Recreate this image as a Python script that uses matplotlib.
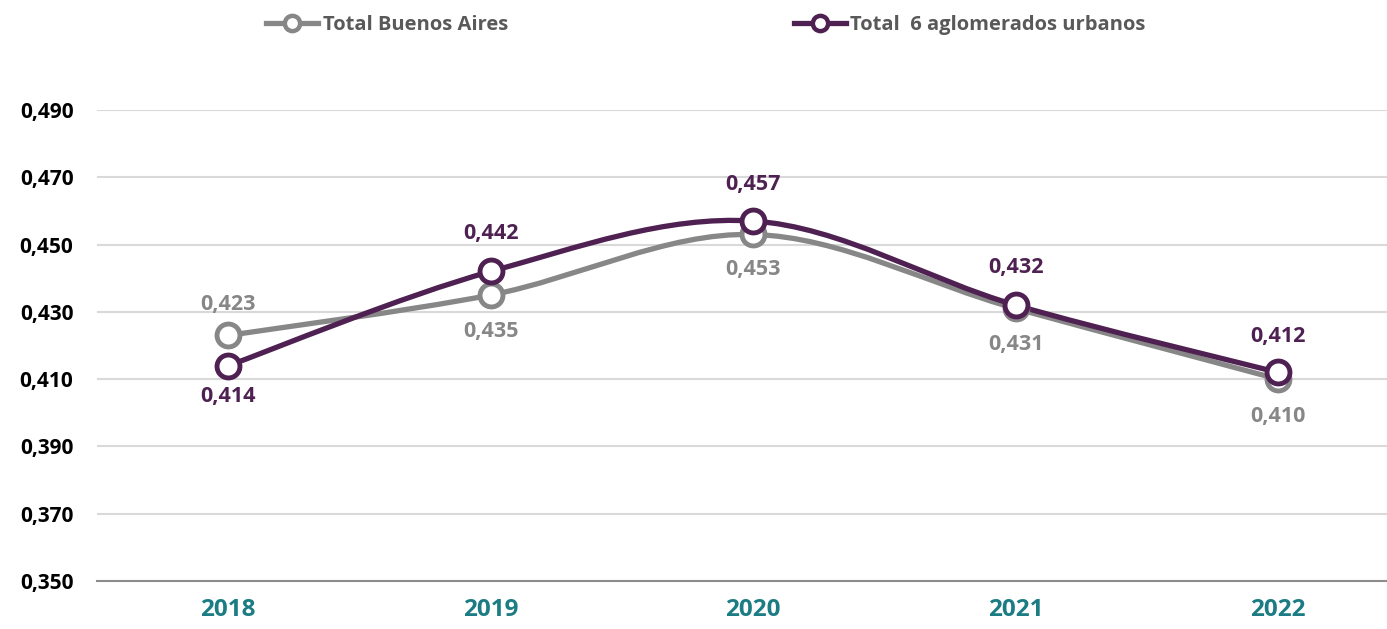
import matplotlib
matplotlib.use("Agg")
import matplotlib.pyplot as plt
from matplotlib.path import Path
from matplotlib.patches import PathPatch
from matplotlib.lines import Line2D
import numpy as np

years = ["2018", "2019", "2020", "2021", "2022"]
buenos_aires = [0.423, 0.435, 0.453, 0.431, 0.410]
aglomerados = [0.414, 0.442, 0.457, 0.432, 0.412]
series_names = ["Total Buenos Aires", "Total  6 aglomerados urbanos"]
yticks = [0.350, 0.370, 0.390, 0.410, 0.430, 0.450, 0.470, 0.490]

GRAY = "#878787"
PURPLE = "#4F2152"
TEAL = "#1C7C83"
FONT = "Open Sans"

W, H = 1387, 629
fig = plt.figure(figsize=(W / 100, H / 100), dpi=100)
ax = fig.add_axes([97 / W, 1 - 581 / H, (W - 97) / W, (581 - 110) / H])
ax.set_xlim(-0.5, (W - 228) / 262.5)
ax.set_ylim(0.350, 0.490)


def smooth_path(xs, ys):
    pts = np.column_stack([xs, ys])
    n = len(pts)
    verts = [pts[0]]
    codes = [Path.MOVETO]
    for i in range(n - 1):
        p0 = pts[max(i - 1, 0)]
        p1 = pts[i]
        p2 = pts[i + 1]
        p3 = pts[min(i + 2, n - 1)]
        c1 = p1 + (p2 - p0) / 6.0
        c2 = p2 - (p3 - p1) / 6.0
        verts += [c1, c2, p2]
        codes += [Path.CURVE4] * 3
    return Path(verts, codes)


xs = np.arange(len(years))
for vals, color in [(buenos_aires, GRAY), (aglomerados, PURPLE)]:
    patch = PathPatch(smooth_path(xs, vals), facecolor="none", edgecolor=color,
                      lw=3.8, zorder=3, capstyle="round")
    ax.add_patch(patch)
    ax.plot(xs, vals, linestyle="none", marker="o", markersize=16.5,
            markerfacecolor="white", markeredgecolor=color, markeredgewidth=3.5,
            zorder=4)

# data labels (offsets in points; positive = above)
ba_offsets = [22, -26, -25, -26, -27]
ag_offsets = [-22, 27, 26, 27, 26]
for vals, offs, color in [(buenos_aires, ba_offsets, GRAY), (aglomerados, ag_offsets, PURPLE)]:
    for x, v, o in zip(xs, vals, offs):
        ax.annotate(f"{v:.3f}".replace(".", ","), (x, v), xytext=(0, o),
                    textcoords="offset points", ha="center", va="center",
                    fontsize=15.5, fontweight="bold", color=color,
                    family=FONT, zorder=5)

ax.set_yticks(yticks)
ax.set_yticklabels([f"{t:.3f}".replace(".", ",") for t in yticks],
                   fontsize=15, fontweight="bold", family=FONT, color="black")
ax.set_xticks(xs)
ax.set_xticklabels(years, fontsize=17.5, fontweight="bold", family=FONT, color=TEAL)
ax.tick_params(axis="y", length=0, pad=17)
ax.tick_params(axis="x", length=0, pad=12)
ax.grid(axis="y", color="#D9D9D9", lw=1.5, zorder=0)
ax.set_axisbelow(True)
for s in ["top", "right", "left"]:
    ax.spines[s].set_visible(False)
ax.spines["bottom"].set_color("#8C8C8C")
ax.spines["bottom"].set_linewidth(1.5)
ax.spines["bottom"].set_zorder(1)

handles = [
    Line2D([], [], color=GRAY, lw=3.8, marker="o", markersize=11,
           markerfacecolor="white", markeredgecolor=GRAY, markeredgewidth=3.2),
    Line2D([], [], color=PURPLE, lw=3.8, marker="o", markersize=11,
           markerfacecolor="white", markeredgecolor=PURPLE, markeredgewidth=3.2),
]
leg = fig.legend(handles, series_names, loc="center left",
                 bbox_to_anchor=(248 / W, 1 - 25 / H), ncol=2, frameon=False,
                 handlelength=2.6, handletextpad=0.2, columnspacing=14.2,
                 prop={"family": FONT, "weight": "bold", "size": 14.5})
for t in leg.get_texts():
    t.set_color("#595959")

fig.savefig("out.png", dpi=100)
